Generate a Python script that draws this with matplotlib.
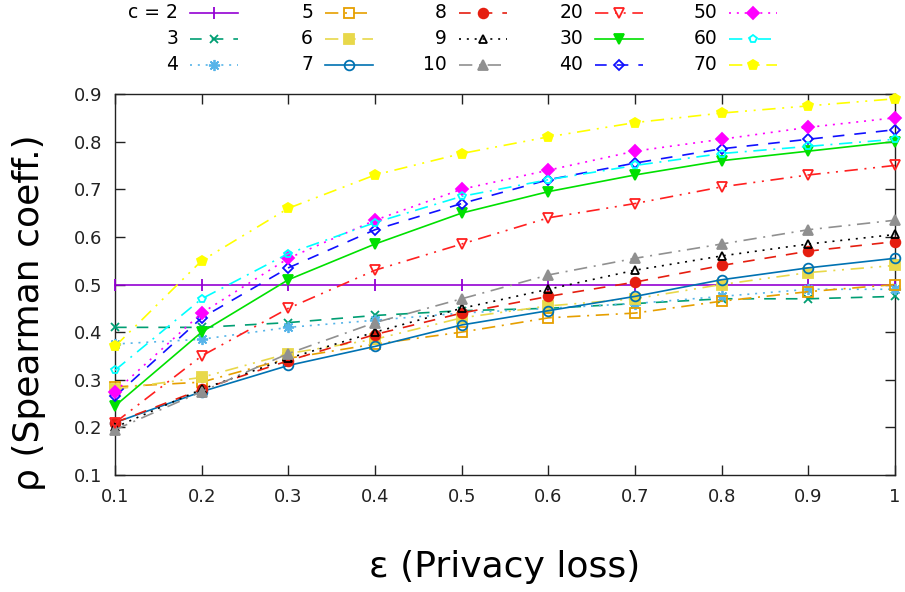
import numpy as np
import matplotlib.pyplot as plt
from matplotlib.lines import Line2D

plt.rcParams['font.family'] = ['DejaVu Sans']

eps = [0.1, 0.2, 0.3, 0.4, 0.5, 0.6, 0.7, 0.8, 0.9, 1.0]

c_labels = ["c = 2", "3", "4", "5", "6", "7", "8", "9", "10",
            "20", "30", "40", "50", "60", "70"]

rho_c2 = [0.5, 0.5, 0.5, 0.5, 0.5, 0.5, 0.5, 0.5, 0.5, 0.5]
rho_c3 = [0.41, 0.41, 0.42, 0.435, 0.445, 0.45, 0.46, 0.47, 0.47, 0.475]
rho_c4 = [0.375, 0.385, 0.41, 0.425, 0.44, 0.45, 0.46, 0.475, 0.49, 0.49]
rho_c5 = [0.285, 0.295, 0.345, 0.375, 0.40, 0.43, 0.44, 0.465, 0.485, 0.50]
rho_c6 = [0.28, 0.305, 0.355, 0.385, 0.43, 0.455, 0.47, 0.50, 0.525, 0.54]
rho_c7 = [0.21, 0.275, 0.33, 0.37, 0.415, 0.445, 0.475, 0.51, 0.535, 0.555]
rho_c8 = [0.21, 0.28, 0.34, 0.395, 0.44, 0.475, 0.505, 0.54, 0.57, 0.59]
rho_c9 = [0.20, 0.28, 0.345, 0.40, 0.45, 0.49, 0.53, 0.56, 0.585, 0.605]
rho_c10 = [0.195, 0.275, 0.355, 0.42, 0.47, 0.52, 0.555, 0.585, 0.615, 0.635]
rho_c20 = [0.21, 0.35, 0.45, 0.53, 0.585, 0.64, 0.67, 0.705, 0.73, 0.75]
rho_c30 = [0.245, 0.40, 0.51, 0.585, 0.65, 0.695, 0.73, 0.76, 0.78, 0.80]
rho_c40 = [0.265, 0.43, 0.535, 0.615, 0.67, 0.72, 0.755, 0.785, 0.805, 0.825]
rho_c50 = [0.275, 0.44, 0.555, 0.635, 0.70, 0.74, 0.78, 0.805, 0.83, 0.85]
rho_c60 = [0.32, 0.47, 0.565, 0.63, 0.685, 0.72, 0.75, 0.775, 0.79, 0.805]
rho_c70 = [0.37, 0.55, 0.66, 0.73, 0.775, 0.81, 0.84, 0.86, 0.875, 0.89]

series = [rho_c2, rho_c3, rho_c4, rho_c5, rho_c6, rho_c7, rho_c8, rho_c9,
          rho_c10, rho_c20, rho_c30, rho_c40, rho_c50, rho_c60, rho_c70]

colors = ["#9400d3", "#009e73", "#56b4e9", "#e69f00", "#e8d84a", "#0072b2",
          "#e51e10", "#000000", "#909090", "#ff2020", "#00e000", "#1010ff",
          "#ff00ff", "#00ffff", "#ffff00"]

solid = "-"
dashed = (0, (7, 6))
dotted = (0, (1.2, 3.5))
dashdot = (0, (8, 4, 1.2, 4))
dashdotdot = (0, (8, 4, 1.2, 4, 1.2, 4))
styles = [solid, dashed, dotted, dashdot, dashdotdot] * 3

markers = ["|", "x", (8, 2, 0), "s", "s", "o", "o", "^", "^",
           "v", "v", "D", "D", "p", "p"]
filled = [True, True, True, False, True, False, True, False, True,
          False, True, False, True, False, True]
msizes = [9, 6, 8, 7, 7, 7, 7, 6, 7, 7, 7, 5, 6, 6, 7]


def style_kw(i):
    return dict(color=colors[i], linestyle=styles[i], linewidth=1.2,
                marker=markers[i], markersize=msizes[i],
                markeredgewidth=1.3,
                markerfacecolor=colors[i] if filled[i] else "none",
                markeredgecolor=colors[i])


fig = plt.figure(figsize=(9.05, 5.92), dpi=100)
ax = fig.add_axes([115 / 905, 117 / 592, 780 / 905, 381 / 592])

for i, ys in enumerate(series):
    ax.plot(eps, ys, clip_on=False, zorder=3 + i, **style_kw(i))

ax.set_xlim(0.1, 1.0)
ax.set_ylim(0.1, 0.9)
ax.set_xticks(eps)
ax.set_xticklabels(["0.1", "0.2", "0.3", "0.4", "0.5", "0.6", "0.7",
                    "0.8", "0.9", "1"])
ax.set_yticks(np.arange(0.1, 0.91, 0.1))
ax.set_yticklabels(["0.1", "0.2", "0.3", "0.4", "0.5", "0.6", "0.7",
                    "0.8", "0.9"])
ax.tick_params(direction="in", length=7, width=1, labelsize=13,
               top=True, right=True, pad=9, colors="#222222")
for sp in ax.spines.values():
    sp.set_linewidth(1)
    sp.set_color("#222222")

ax.set_xlabel("ε (Privacy loss)", fontsize=26, labelpad=32)
ax.set_ylabel("ρ (Spearman coeff.)", fontsize=26)
ax.yaxis.set_label_coords(-0.088, 0.425)

# legend, gnuplot style: label right-aligned, sample line with centred marker
col_text_x = [178, 313, 447, 583, 717]
row_y = [13, 39, 65]
for i in range(len(series)):
    col, row = divmod(i, 3)
    xt = col_text_x[col]
    y = 1 - row_y[row] / 592
    fig.text(xt / 905, y, c_labels[i], ha="right", va="center", fontsize=13.5)
    x0, x1 = (xt + 12) / 905, (xt + 60) / 905
    kw = style_kw(i)
    kw["marker"] = None
    fig.add_artist(Line2D([x0, x1], [y, y], transform=fig.transFigure, **kw))
    kw = style_kw(i)
    kw["linestyle"] = "none"
    fig.add_artist(Line2D([(x0 + x1) / 2], [y], transform=fig.transFigure, **kw))

fig.savefig("out.png", dpi=100)
